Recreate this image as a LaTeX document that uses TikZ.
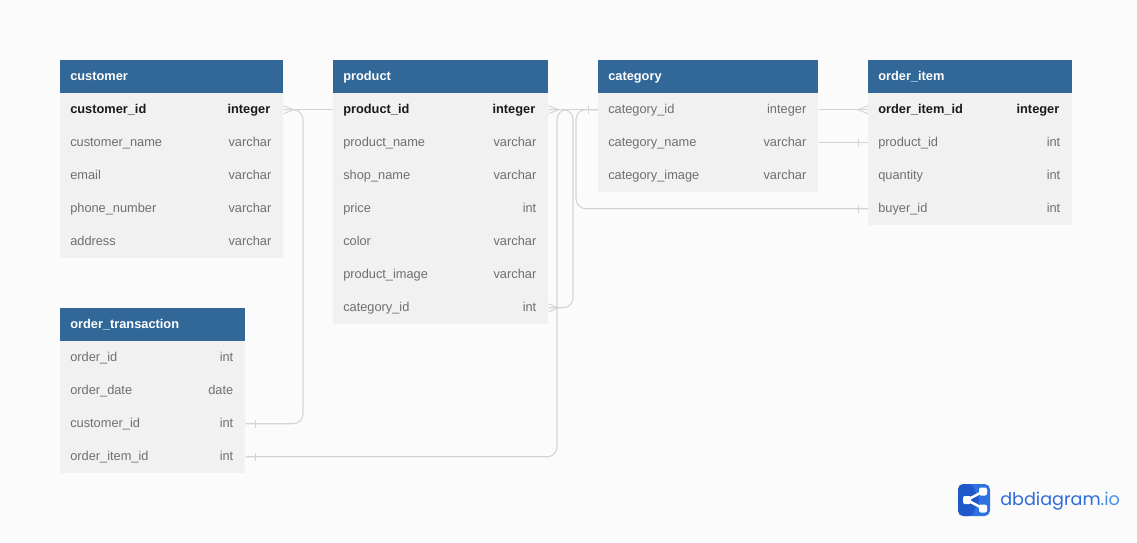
\documentclass[tikz,border=0pt]{standalone}
\usepackage{fontspec}
\setmainfont{Liberation Sans}
\newfontfamily\logofont{Poppins}
\definecolor{pagebg}{HTML}{FBFBFB}
\definecolor{headblue}{HTML}{316897}
\definecolor{rowgray}{HTML}{F1F1F1}
\definecolor{typegray}{HTML}{6F6F6F}
\definecolor{pkblack}{HTML}{1A1A1A}
\definecolor{linkgray}{HTML}{D4D4D4}
\definecolor{logoA}{HTML}{2F72E0}
\definecolor{logoB}{HTML}{1F58C8}
\definecolor{logoC}{HTML}{2F6BD8}
\definecolor{logoD}{HTML}{4A90E8}
\tikzset{
  headbox/.style={fill=headblue,text=white,font=\fontsize{9.6}{11}\selectfont\bfseries,anchor=north west,minimum height=24.75pt,inner xsep=7.5pt,inner ysep=0pt,text height=7pt,text depth=2pt,align=left},
  rowbox/.style={fill=rowgray,text=typegray,font=\fontsize{9.6}{11}\selectfont,anchor=north west,minimum height=24.75pt,inner xsep=7.5pt,inner ysep=0pt,text height=7pt,text depth=2pt},
  pkbox/.style={rowbox,text=pkblack,font=\fontsize{9.6}{11}\selectfont\bfseries},
  typetag/.style={text=typegray,font=\fontsize{9.6}{11}\selectfont,anchor=east,inner sep=0pt,text height=7pt,text depth=2pt},
  pktag/.style={typetag,text=pkblack,font=\fontsize{9.6}{11}\selectfont\bfseries,xshift=-0.75pt},
  link/.style={draw=linkgray,line width=0.8pt,rounded corners=7.5pt},
  cardmark/.style={draw=linkgray,line width=0.7pt}
}
% \tabhead{name}{x}{y}{width}{text}
\newcommand{\tabhead}[5]{\node[headbox,text width=#4*0.75pt-15pt] (#1) at (#2,#3) {#5};}
% \tabrow{name}{x}{y}{width}{text}{type}{style prefix: rowbox or pkbox}{tag style}
\newcommand{\tabrow}[8]{%
  \node[#7,text width=#4*0.75pt-15pt] (#1) at (#2,#3) {#5};
  \node[#8] (#1t) at ([xshift=-9pt]#1.east) {#6};}
\newcommand{\crowR}[1]{% foot opening to the left at the east side of a row
  \draw[cardmark] ([yshift=3pt]#1.east) -- ([xshift=7.5pt]#1.east) -- ([yshift=-3pt]#1.east);}
\newcommand{\crowL}[1]{%
  \draw[cardmark] ([yshift=3pt]#1.west) -- ([xshift=-7.5pt]#1.west) -- ([yshift=-3pt]#1.west);}
\newcommand{\barR}[1]{%
  \draw[cardmark] ([xshift=7.5pt,yshift=3pt]#1.east) -- ([xshift=7.5pt,yshift=-3pt]#1.east);}
\newcommand{\barL}[1]{%
  \draw[cardmark] ([xshift=-7.5pt,yshift=3pt]#1.west) -- ([xshift=-7.5pt,yshift=-3pt]#1.west);}
\begin{document}
\begin{tikzpicture}[x=0.75pt,y=-0.75pt]
\path[use as bounding box,fill=pagebg] (0,0) rectangle (1137,542);

% customer
\tabhead{cust}{60}{60}{223}{customer}
\tabrow{c1}{60}{93}{223}{customer\_id}{integer}{pkbox}{pktag}
\tabrow{c2}{60}{126}{223}{customer\_name}{varchar}{rowbox}{typetag}
\tabrow{c3}{60}{159}{223}{email}{varchar}{rowbox}{typetag}
\tabrow{c4}{60}{192}{223}{phone\_number}{varchar}{rowbox}{typetag}
\tabrow{c5}{60}{225}{223}{address}{varchar}{rowbox}{typetag}

% order_transaction
\tabhead{otr}{60}{308}{185}{order\_transaction}
\tabrow{t1}{60}{341}{185}{order\_id}{int}{rowbox}{typetag}
\tabrow{t2}{60}{374}{185}{order\_date}{date}{rowbox}{typetag}
\tabrow{t3}{60}{407}{185}{customer\_id}{int}{rowbox}{typetag}
\tabrow{t4}{60}{440}{185}{order\_item\_id}{int}{rowbox}{typetag}

% product
\tabhead{prod}{333}{60}{215}{product}
\tabrow{p1}{333}{93}{215}{product\_id}{integer}{pkbox}{pktag}
\tabrow{p2}{333}{126}{215}{product\_name}{varchar}{rowbox}{typetag}
\tabrow{p3}{333}{159}{215}{shop\_name}{varchar}{rowbox}{typetag}
\tabrow{p4}{333}{192}{215}{price}{int}{rowbox}{typetag}
\tabrow{p5}{333}{225}{215}{color}{varchar}{rowbox}{typetag}
\tabrow{p6}{333}{258}{215}{product\_image}{varchar}{rowbox}{typetag}
\tabrow{p7}{333}{291}{215}{category\_id}{int}{rowbox}{typetag}

% category
\tabhead{cat}{598}{60}{220}{category}
\tabrow{k1}{598}{93}{220}{category\_id}{integer}{rowbox}{typetag}
\tabrow{k2}{598}{126}{220}{category\_name}{varchar}{rowbox}{typetag}
\tabrow{k3}{598}{159}{220}{category\_image}{varchar}{rowbox}{typetag}

% order_item
\tabhead{oit}{868}{60}{204}{order\_item}
\tabrow{i1}{868}{93}{204}{order\_item\_id}{integer}{pkbox}{pktag}
\tabrow{i2}{868}{126}{204}{product\_id}{int}{rowbox}{typetag}
\tabrow{i3}{868}{159}{204}{quantity}{int}{rowbox}{typetag}
\tabrow{i4}{868}{192}{204}{buyer\_id}{int}{rowbox}{typetag}

% connectors
\draw[link] (c1.east) -- (p1.west);
\draw[link] (t3.east) -| (303,109.5) -- (c1.east);
\draw[link] (p1.east) -- (k1.west);
\draw[link] (t4.east) -| (557,109.5) -- (k1.west);
\draw[link] (p7.east) -| (573,109.5) -- (p1.east);
\draw[link] (i4.west) -| (576,109.5) -- (k1.west);
\draw[link] (k1.east) -- (i1.west);
\draw[link] (k2.east) -- (i2.west);

% cardinality marks
\crowR{c1}
\crowR{p1}
\crowR{p7}
\crowL{i1}
\barL{k1}
\barL{i2}
\barL{i4}
\barR{t3}
\barR{t4}

% logo
\fill[logoA,rounded corners=4pt] (958,484) rectangle (990,516);
\fill[logoB,rounded corners=4pt] (958,484) -- (974,484) -- (974,491) -- (981,500) -- (974,509) -- (974,516) -- (958,516) -- cycle;
\draw[white,line width=1.9pt] (983,491.5) -- (967,500) -- (983,508.5);
\fill[white,rounded corners=1.5pt] (963,496) rectangle (971,504);
\fill[white,rounded corners=1.5pt] (979,487.5) rectangle (987,495.5);
\fill[white,rounded corners=1.5pt] (979,504.5) rectangle (987,512.5);
\node[anchor=west,inner sep=0pt,font=\logofont\fontsize{13.2}{16}\selectfont] (logo) at (1000,501) {\textcolor{logoC}{dbdiagram}\textcolor{logoD}{.io}};
\end{tikzpicture}
\end{document}
